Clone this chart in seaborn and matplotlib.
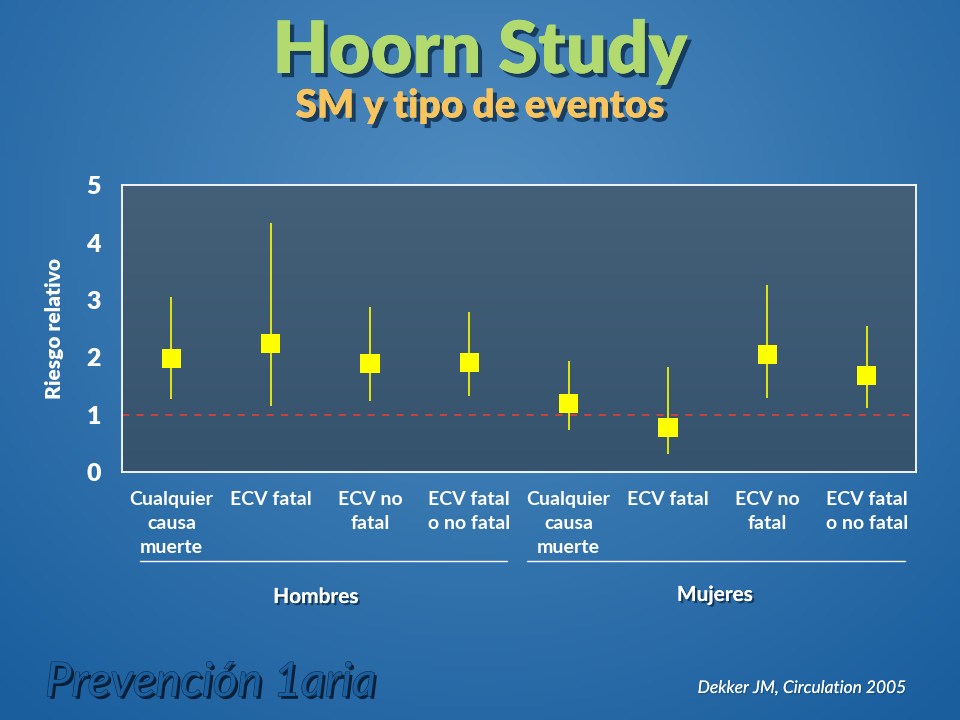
import numpy as np
import pandas as pd
import matplotlib.pyplot as plt
import matplotlib.patheffects as pe
import seaborn as sns

# data
categories = ['Cualquier\ncausa\nmuerte', 'ECV fatal', 'ECV no\nfatal', 'ECV fatal\no no fatal',
              'Cualquier\ncausa\nmuerte', 'ECV fatal', 'ECV no\nfatal', 'ECV fatal\no no fatal']
groups = ['Hombres'] * 4 + ['Mujeres'] * 4
rr = [1.98, 2.25, 1.90, 1.91, 1.19, 0.77, 2.05, 1.69]
ci_low = [1.28, 1.15, 1.24, 1.33, 0.74, 0.31, 1.29, 1.12]
ci_high = [3.05, 4.35, 2.88, 2.79, 1.94, 1.83, 3.26, 2.55]

df = pd.DataFrame({'pos': np.arange(len(rr)), 'rr': rr, 'lo': ci_low, 'hi': ci_high,
                   'cat': categories, 'group': groups})

sns.set_style('white')
plt.rcParams['font.family'] = ['Lato', 'DejaVu Sans']

fig = plt.figure(figsize=(9.6, 7.2), dpi=100)

# slide background gradient
bg = fig.add_axes([0, 0, 1, 1], zorder=-10)
yy, xx = np.mgrid[0:1:200j, 0:1:200j]
d = np.sqrt(((xx - 0.5) / 0.75) ** 2 + ((yy - 0.3) / 0.9) ** 2)
d = np.clip(d, 0, 1)
c_in = np.array([0x50, 0x8c, 0xbf]) / 255
c_out = np.array([0x1a, 0x5e, 0x9e]) / 255
img = c_in[None, None, :] * (1 - d[..., None]) + c_out[None, None, :] * d[..., None]
bg.imshow(img, extent=[0, 1, 1, 0], aspect='auto')
bg.set_xlim(0, 1)
bg.set_ylim(1, 0)
bg.axis('off')

ax = fig.add_axes([0.1268, 0.3444, 0.8277, 0.398])
# plot area gradient
grad = np.linspace(0, 1, 100)[:, None]
top = np.array([0x44, 0x60, 0x78]) / 255
bot = np.array([0x36, 0x53, 0x6e]) / 255
pimg = top[None, None, :] * (1 - grad[..., None]) + bot[None, None, :] * grad[..., None]
ax.imshow(pimg, extent=[-0.5, 7.5, 0, 5], aspect='auto', zorder=0)

ax.axhline(1, color='#d4403c', lw=1.3, ls=(0, (4, 4)), zorder=1)
ax.vlines(df['pos'], df['lo'], df['hi'], color='#ffff00', lw=1.2, zorder=2)
sns.scatterplot(data=df, x='pos', y='rr', marker='s', s=190, color='#ffff00',
                edgecolor='none', ax=ax, zorder=3, legend=False)

ax.set_xlim(-0.5, 7.5)
ax.set_ylim(0, 5)
ax.set_yticks(range(6))
ax.set_yticklabels([str(i) for i in range(6)], color='white', fontsize=18, fontweight='heavy')
ax.set_xticks(np.arange(-0.5, 8, 1))
ax.set_xticklabels([])
ax.tick_params(axis='y', direction='inout', length=10, color='white', width=1.2, pad=10)
ax.tick_params(axis='x', direction='out', length=10, color='white', width=1.2)
for s in ax.spines.values():
    s.set_color('white')
    s.set_linewidth(1.3)
ax.set_xlabel('')
ax.set_ylabel('Riesgo relativo', color='white', fontsize=15, fontweight='heavy', labelpad=16)

shadow = [pe.withSimplePatchShadow(offset=(1.5, -1.5), shadow_rgbFace='#0d2c4a', alpha=0.8), pe.Normal()]

for i, lab in enumerate(categories):
    ax.text(i, -0.33, lab, ha='center', va='top', color='white', fontsize=14,
            fontweight='bold', linespacing=1.5, transform=ax.transData)

fig.add_artist(plt.Line2D([140 / 960, 507 / 960], [1 - 561 / 720] * 2, color='white', lw=1))
fig.add_artist(plt.Line2D([527 / 960, 905 / 960], [1 - 561 / 720] * 2, color='white', lw=1))
fig.text(316 / 960, 1 - 597 / 720, 'Hombres', ha='center', va='center', color='white',
         fontsize=15, fontweight='bold', path_effects=shadow)
fig.text(715 / 960, 1 - 595 / 720, 'Mujeres', ha='center', va='center', color='white',
         fontsize=15, fontweight='bold', path_effects=shadow)

title_fx = [pe.withSimplePatchShadow(offset=(3, -3), shadow_rgbFace='#0d2c4a', alpha=0.8), pe.Normal()]
fig.text(0.5, 1 - 52 / 720, 'Hoorn Study', ha='center', va='center', color='#b3da6e',
         fontsize=52, fontweight='heavy', path_effects=title_fx)
fig.text(0.5, 1 - 106 / 720, 'SM y tipo de eventos', ha='center', va='center', color='#f8c45e',
         fontsize=28, fontweight='heavy', path_effects=title_fx)

fig.text(45 / 960, 1 - 683 / 720, 'Prevención 1aria', ha='left', va='center', color='#1c5f9e',
         fontsize=34, style='italic',
         path_effects=[pe.withSimplePatchShadow(offset=(2, -2), shadow_rgbFace='#06182c', alpha=0.9),
                       pe.Stroke(linewidth=0.8, foreground='#0c2a48'), pe.Normal()])
fig.text(907 / 960, 1 - 688 / 720, 'Dekker JM, Circulation 2005', ha='right', va='center',
         color='white', fontsize=12.5, style='italic',
         path_effects=[pe.withSimplePatchShadow(offset=(1, -1), shadow_rgbFace='#0d2c4a'), pe.Normal()])

fig.savefig('out.png', dpi=100)
